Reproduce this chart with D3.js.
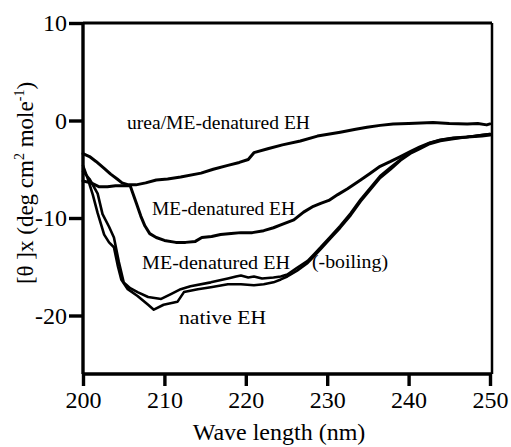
<!DOCTYPE html>
<html>
<head>
<meta charset="utf-8">
<script src="https://cdn.jsdelivr.net/npm/d3@7"></script>
<style>
  html, body { margin: 0; padding: 0; background: #fff; }
  svg { display: block; }
  svg text { font-family: "Liberation Serif", "Times New Roman", "DejaVu Serif", serif; fill: #000; }
</style>
</head>
<body>
<svg id="chart" width="511" height="447"></svg>
<script>
// ---- data ----
const xTicks = [200, 210, 220, 230, 240, 250];
const yTicks = [10, 0, -10, -20];

const ureaWl = [200, 200.8, 201.6, 202.6, 203.4, 204.2, 204.8, 205.6, 206.5, 207.7, 209, 210.4, 212, 214.5, 216, 217.8, 219.2, 220.3, 221, 222.7, 224.5, 226.7, 228.8, 231.6, 233.5, 234.9, 236.5, 238.1, 240, 243, 245, 247.2, 248.5, 249.6, 250];
const ureaVal = [-3.4, -3.7, -4.2, -4.9, -5.5, -6.0, -6.4, -6.6, -6.6, -6.4, -6.1, -6.0, -5.8, -5.4, -5.0, -4.6, -4.3, -4.0, -3.3, -2.9, -2.5, -2.1, -1.6, -1.2, -0.9, -0.7, -0.5, -0.35, -0.3, -0.2, -0.3, -0.35, -0.3, -0.45, -0.35];

const meWl = [200, 201, 202, 203, 204, 205, 205.8, 206.1, 206.6, 207.1, 207.6, 208.2, 209, 210, 211.4, 212.6, 213.8, 214.6, 215.8, 216.9, 218.2, 219.4, 220.8, 222.2, 223.4, 224.3, 225.9, 227.1, 228.3, 229.2, 230.2, 231.3, 232.5, 234.1, 235.3, 236.5, 237.8, 239, 240.2, 241.4, 242.6, 243.9, 245.5, 247.2, 249, 250];
const meVal = [-6.2, -6.4, -6.8, -6.8, -6.7, -6.7, -6.7, -7.4, -8.6, -9.8, -10.8, -11.6, -12.0, -12.3, -12.5, -12.5, -12.4, -12.0, -11.9, -11.7, -11.6, -11.5, -11.5, -11.3, -11.0, -10.7, -10.2, -9.4, -8.8, -8.5, -8.2, -7.6, -7.0, -6.1, -5.4, -4.7, -4.2, -3.7, -3.2, -2.7, -2.3, -2.0, -1.8, -1.7, -1.6, -1.5];

const nativeWl = [200, 200.6, 201.2, 201.8, 202.6, 203.2, 203.8, 204.3, 204.7, 205.5, 206.7, 208, 208.7, 209.9, 211.6, 212.4, 214.1, 215.7, 217.8, 219.4, 221, 222.2, 223.4, 224.3, 225.1, 226.3, 227.6, 228.4, 229.2, 230.4, 231.6, 232.9, 234.1, 235.3, 236.5, 237.8, 239, 240.2, 241.4, 242.6, 243.9, 245.5, 247.2, 249, 250];
const nativeVal = [-4.6, -6.0, -7.6, -9.5, -11.7, -12.5, -13.0, -15.0, -16.3, -17.3, -18.0, -18.9, -19.4, -18.9, -18.6, -17.6, -17.3, -17.1, -16.8, -16.8, -16.9, -16.8, -16.6, -16.3, -16.0, -15.4, -14.6, -13.9, -13.2, -12.1, -11.0, -9.7, -8.3, -7.1, -5.9, -5.0, -4.1, -3.4, -2.9, -2.4, -2.1, -1.9, -1.7, -1.5, -1.4];

const boilWl = [200, 200.8, 201.8, 202.4, 203.2, 203.8, 204.4, 205, 205.8, 206.7, 208, 209.6, 210.8, 212, 213.2, 215.7, 217.8, 218.8, 219.4, 220.3, 221, 222, 223.4, 224.3, 225.1, 226.3, 227.6, 228.4, 229.2, 230.4, 231.6, 232.9, 234.1, 235.3, 236.5, 237.8, 239, 240.2, 241.4, 242.6, 243.9, 245.5, 247.2, 249, 250];
const boilVal = [-5.2, -6.0, -7.5, -9.6, -10.9, -12.0, -14.5, -16.6, -17.2, -17.6, -18.1, -18.3, -17.8, -17.3, -17.0, -16.6, -16.2, -16.0, -15.9, -16.1, -16.0, -16.2, -16.1, -16.0, -15.8, -15.1, -14.4, -13.7, -13.0, -11.9, -10.8, -9.5, -8.1, -6.9, -5.7, -4.8, -4.0, -3.3, -2.8, -2.3, -2.0, -1.8, -1.7, -1.5, -1.4];

const seriesNames = ["urea/ME-denatured EH", "ME-denatured EH", "ME-denatured EH", "native EH"];

// ---- chart ----
const svg = d3.select("#chart");
const x = d3.scaleLinear().domain([200, 250]).range([83, 490]);
const y = d3.scaleLinear().domain([-26, 10]).range([374, 23]);

const line = d3.line().x(d => x(d[0])).y(d => y(d[1])).curve(d3.curveLinear);

function draw(wl, vals, w) {
  svg.append("path")
    .datum(wl.map((v, i) => [v, vals[i]]))
    .attr("d", line)
    .attr("fill", "none")
    .attr("stroke", "#000")
    .attr("stroke-width", w)
    .attr("stroke-linejoin", "round")
    .attr("stroke-linecap", "round");
}

draw(ureaWl, ureaVal, 3);
draw(meWl, meVal, 3);
draw(nativeWl, nativeVal, 2.6);
draw(boilWl, boilVal, 2.6);

// frame (top and right)
svg.append("line").attr("x1", x(200)).attr("x2", x(250) + 2).attr("y1", y(10)).attr("y2", y(10))
  .attr("stroke", "#000").attr("stroke-width", 3);
svg.append("line").attr("x1", x(250) + 2).attr("x2", x(250) + 2).attr("y1", y(10)).attr("y2", y(-26))
  .attr("stroke", "#000").attr("stroke-width", 2.5);

// axes
const fmt = d => String(d);
const xAxis = d3.axisBottom(x).tickValues(xTicks).tickSize(12).tickPadding(5).tickFormat(fmt);
const yAxis = d3.axisLeft(y).tickValues(yTicks).tickSize(14).tickPadding(2).tickFormat(fmt);

const gx = svg.append("g").attr("transform", `translate(0,${y(-26)})`).call(xAxis);
const gy = svg.append("g").attr("transform", `translate(${x(200)},0)`).call(yAxis);

[gx, gy].forEach(g => {
  g.attr("font-family", null).attr("font-size", null);
  g.select(".domain").attr("stroke", "#000").attr("stroke-width", 3.4);
  g.selectAll(".tick line").attr("stroke", "#000").attr("stroke-width", 3.4);
  g.selectAll(".tick text").attr("font-size", 24).attr("fill", "#000");
});
gy.select(".domain").attr("d", `M0,${y(10)}V${y(-26)}`);
gx.select(".domain").attr("d", `M${x(200)},0H${x(250)+2}`);

// labels on curves
const lab = (t, px, py, w) => svg.append("text").attr("x", px).attr("y", py)
  .attr("font-size", 19.5).attr("textLength", w).attr("lengthAdjust", "spacingAndGlyphs").text(t);
lab(seriesNames[0], 127, 129, 183);
lab(seriesNames[1], 152, 215, 143);
lab(seriesNames[2], 142, 269, 148);
lab("(-boiling)", 312, 268, 76);
lab(seriesNames[3], 179, 324, 87);

// axis titles
svg.append("text").attr("x", 279).attr("y", 440).attr("text-anchor", "middle").attr("font-size", 24)
  .text("Wave length (nm)");

const yt = svg.append("text").attr("transform", "translate(33,183) rotate(-90)")
  .attr("text-anchor", "middle").attr("font-size", 23);
yt.append("tspan").text("[θ ]x (deg cm");
yt.append("tspan").attr("dy", -9).attr("font-size", 14).text("2");
yt.append("tspan").attr("dy", 9).text(" mole");
yt.append("tspan").attr("dy", -9).attr("font-size", 14).text("-1");
yt.append("tspan").attr("dy", 9).text(")");
</script>
</body>
</html>
